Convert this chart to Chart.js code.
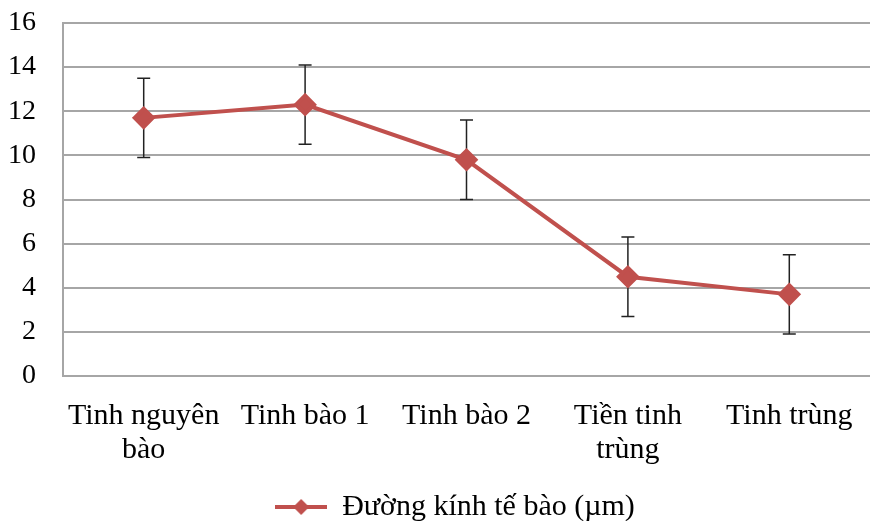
<!DOCTYPE html>
<html>
<head>
<meta charset="utf-8">
<script src="https://cdn.jsdelivr.net/npm/chart.js@4/dist/chart.umd.min.js"></script>
<style>
  body { margin: 0; background: #fff; }
  #wrap { width: 870px; height: 521px; }
</style>
</head>
<body>
<div id="wrap"><canvas id="myChart"></canvas></div>
<script>
const categories = [['Tinh nguyên', 'bào'], 'Tinh bào 1', 'Tinh bào 2', ['Tiền tinh', 'trùng'], 'Tinh trùng'];
const diameters = [11.7, 12.3, 9.8, 4.5, 3.7];
const errors = [1.8, 1.8, 1.8, 1.8, 1.8];
const yTicks = [0, 2, 4, 6, 8, 10, 12, 14, 16];

const red = '#c0504d';
const serif = '"Liberation Serif", "Times New Roman", serif';

// little line + diamond for the legend
const legendIcon = document.createElement('canvas');
legendIcon.width = 52;
legendIcon.height = 18;
(function () {
    const c = legendIcon.getContext('2d');
    c.strokeStyle = red;
    c.lineWidth = 4;
    c.beginPath();
    c.moveTo(0, 9);
    c.lineTo(52, 9);
    c.stroke();
    c.fillStyle = red;
    c.beginPath();
    c.moveTo(26, 1);
    c.lineTo(34, 9);
    c.lineTo(26, 17);
    c.lineTo(18, 9);
    c.closePath();
    c.fill();
})();

const errorBars = {
    id: 'errorBars',
    afterLayout(chart) {
        // legend sits a bit right of centre in the original
        chart.legend.left += 11;
        chart.legend.right += 11;
    },
    beforeDatasetsDraw(chart) {
        const ctx = chart.ctx;
        const y = chart.scales.y;
        const meta = chart.getDatasetMeta(0);
        ctx.save();
        ctx.strokeStyle = '#222';
        ctx.lineWidth = 1.5;
        meta.data.forEach((pt, i) => {
            const top = y.getPixelForValue(diameters[i] + errors[i]);
            const bot = y.getPixelForValue(diameters[i] - errors[i]);
            ctx.beginPath();
            ctx.moveTo(pt.x, top);
            ctx.lineTo(pt.x, bot);
            ctx.moveTo(pt.x - 6.5, top);
            ctx.lineTo(pt.x + 6.5, top);
            ctx.moveTo(pt.x - 6.5, bot);
            ctx.lineTo(pt.x + 6.5, bot);
            ctx.stroke();
        });
        ctx.restore();
    }
};

const ctx = document.getElementById('myChart');
const chart = new Chart(ctx, {
    type: 'line',
    data: {
        labels: categories,
        datasets: [{
            label: 'Đường kính tế bào (µm)',
            data: diameters,
            borderColor: red,
            backgroundColor: red,
            borderWidth: 4,
            pointStyle: 'rectRot',
            pointRadius: 9,
            pointHoverRadius: 9,
            tension: 0
        }]
    },
    options: {
        responsive: true,
        maintainAspectRatio: false,
        animation: false,
        layout: { autoPadding: false, padding: { top: 23, right: -10, left: 8, bottom: -11 } },
        plugins: {
            tooltip: { enabled: false },
            legend: {
                position: 'bottom',
                labels: {
                    usePointStyle: true,
                    pointStyle: legendIcon,
                    pointStyleWidth: 52,
                    color: '#000',
                    padding: 1,
                    font: { family: serif, size: 30 }
                }
            }
        },
        scales: {
            x: {
                offset: true,
                grid: { display: false, drawTicks: false },
                border: { color: '#a6a6a6', width: 2 },
                ticks: {
                    color: '#000',
                    padding: 23,
                    maxRotation: 0,
                    autoSkip: false,
                    font: { family: serif, size: 30, lineHeight: 1.13 }
                },
                afterFit(scale) {
                    scale.paddingLeft = 0;
                    scale.paddingRight = 0;
                    scale.height = 115;
                }
            },
            y: {
                min: 0,
                max: 16,
                afterBuildTicks(axis) { axis.ticks = yTicks.map(v => ({ value: v })); },
                grid: { color: '#a6a6a6', lineWidth: 2, drawTicks: false },
                border: { color: '#a6a6a6', width: 2 },
                ticks: {
                    color: '#000',
                    padding: 27,
                    font: { family: serif, size: 28 }
                },
                afterFit(scale) {
                    scale.paddingTop = 0;
                    scale.paddingBottom = 0;
                    // Chart.js counts the tick padding twice
                    scale.width -= scale.options.ticks.padding;
                }
            }
        }
    },
    plugins: [errorBars]
});
</script>
</body>
</html>
